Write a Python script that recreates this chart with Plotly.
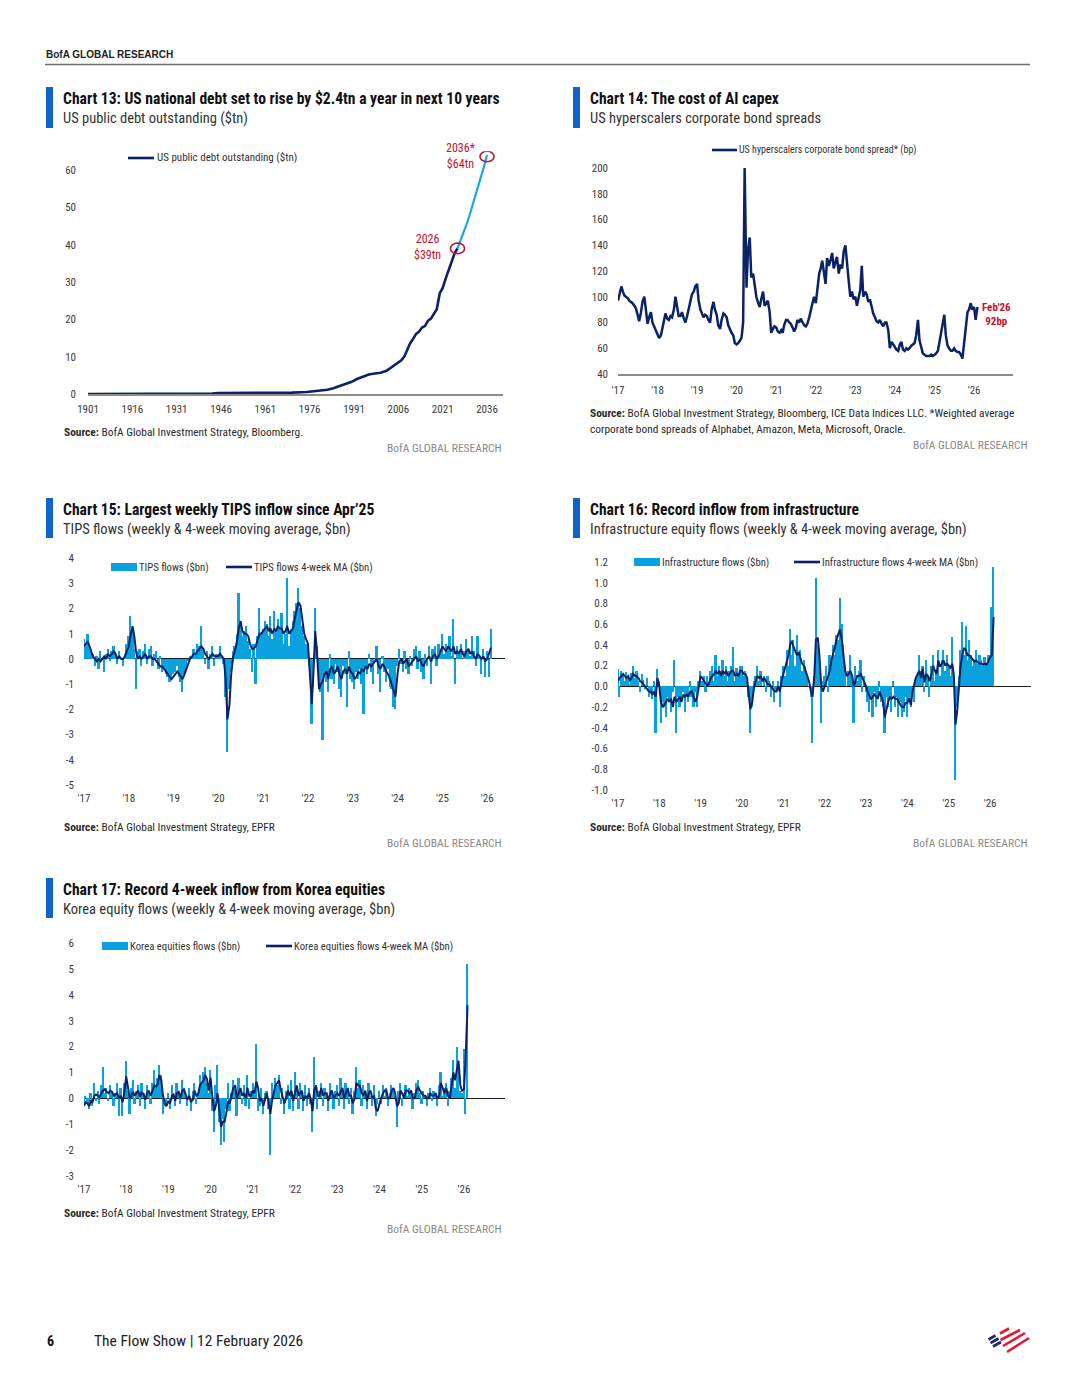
import plotly.graph_objects as go

W, H = 1080, 1398
FONT = "Liberation Sans Narrow, Roboto Condensed, DejaVu Sans Condensed, Arial Narrow, sans-serif"
NAVY = "#0B2366"
LIGHT = "#0AA2DE"
TITLE_BLUE = "#1262CC"
RED = "#C8102E"
TXT = "#2a2a2a"
GREY = "#8a8a8a"

# ---------------- Chart 13 data: US public debt outstanding ($tn) ----------------
debt_years = [1901, 1905, 1910, 1915, 1917, 1919, 1925, 1930, 1935, 1940, 1943, 1945, 1950,
              1955, 1960, 1965, 1970, 1975, 1978, 1980, 1982, 1984, 1986, 1988, 1990, 1992,
              1994, 1996, 1998, 2000, 2002, 2004, 2006, 2007, 2008, 2009, 2010, 2011, 2012,
              2013, 2014, 2015, 2016, 2017, 2018, 2019, 2020, 2021, 2022, 2023, 2024, 2025, 2026]
debt_values = [0.0012, 0.0011, 0.0011, 0.0012, 0.003, 0.025, 0.021, 0.016, 0.029, 0.043, 0.137,
               0.259, 0.257, 0.274, 0.286, 0.317, 0.371, 0.533, 0.772, 0.908, 1.14, 1.57, 2.12,
               2.6, 3.2, 4.0, 4.6, 5.2, 5.5, 5.67, 6.2, 7.4, 8.5, 9.0, 10.0, 11.9, 13.6, 14.8,
               16.1, 16.7, 17.8, 18.2, 19.6, 20.2, 21.5, 22.7, 27.0, 28.4, 30.9, 33.2, 35.5, 37.6, 39.0]
proj_years = [2026, 2027, 2028, 2029, 2030, 2031, 2032, 2033, 2034, 2035, 2036]
proj_values = [39.0, 41.0, 43.0, 45.3, 47.6, 50.2, 52.8, 55.5, 58.2, 61.0, 64.0]
debt_tick_years = [1901, 1916, 1931, 1946, 1961, 1976, 1991, 2006, 2021, 2036]
debt_yticks = [0, 10, 20, 30, 40, 50, 60]
debt_marks = [(2026, 39.0), (2036, 63.6)]

# ---------------- shared year ticks ----------------
year_tick_dates = ["2017-01-01", "2018-01-01", "2019-01-01", "2020-01-01", "2021-01-01",
                   "2022-01-01", "2023-01-01", "2024-01-01", "2025-01-01", "2026-01-01"]
year_tick_labels = ["'17", "'18", "'19", "'20", "'21", "'22", "'23", "'24", "'25", "'26"]

# ---------------- Chart 14: hyperscaler spreads (bp), semi-monthly from Jan 2017 ----------------
spread_bp = [
    97, 103, 108, 104, 101, 100, 99, 97, 96, 95, 93, 91, 86, 81, 88, 96, 100, 91, 79, 84, 88, 80, 77, 74,
    72, 68, 70, 76, 84, 87, 83, 82, 85, 84, 90, 100, 92, 85, 85, 88, 83, 80, 85, 91, 98, 102, 104, 108,
    110, 97, 90, 86, 84, 86, 85, 82, 80, 90, 96, 90, 86, 78, 75, 82, 87, 86, 84, 78, 74, 72, 70, 64,
    63, 64, 66, 68, 80, 200, 107, 136, 146, 115, 118, 108, 100, 96, 92, 98, 104, 93, 95, 97, 88, 72, 75, 77,
    76, 73, 72, 74, 72, 78, 82, 82, 80, 79, 76, 73, 76, 82, 80, 83, 80, 78, 77, 79, 84, 90, 95, 100,
    95, 105, 118, 122, 128, 120, 110, 130, 124, 128, 134, 122, 127, 131, 118, 125, 122, 135, 140, 125, 112, 100, 104, 98,
    100, 93, 101, 105, 124, 100, 104, 102, 96, 98, 92, 87, 84, 81, 80, 82, 79, 77, 80, 80, 74, 60, 65, 63,
    60, 59, 58, 63, 65, 59, 58, 60, 59, 60, 62, 63, 64, 70, 82, 66, 60, 56, 55, 54, 54, 54, 55, 54,
    55, 56, 58, 65, 72, 78, 86, 70, 62, 60, 58, 58, 60, 58, 57, 57, 55, 52, 62, 75, 88, 90, 95, 90,
    92, 82, 92]

# ---------------- Chart 15: TIPS flows ($bn) ----------------
tips_flows = [
    0.8, 0.5, 1.0, 0.6, 0.4, 0.2, -0.3, 0.1, -0.4, 0.3, 0.0, -0.5, 0.2, 0.4, -0.1, 0.3, 0.5, 0.1, -0.2, 0.3, 0.0, -0.3, 0.2, 0.6,
    0.9, 1.7, 1.2, 0.4, -1.2, 0.3, 0.4, -0.3, 0.3, 0.6, -0.2, 0.4, 0.5, -0.3, 0.2, 0.3, -0.4, 0.1, -0.5, -0.4, -0.6, -0.7, -0.9, -0.8,
    -0.6, -0.5, -0.3, -0.7, -0.9, -1.3, -0.6, -0.4, -0.1, 0.1, 0.0, 0.4, 0.2, 0.6, 0.5, 1.3, 0.4, -0.2, 0.3, -0.4, 0.2, 0.5, -0.3, 0.2,
    0.2, 0.5, 0.1, -0.2, -1.5, -3.7, -1.2, -0.5, 0.3, 0.5, 1.0, 2.6, 1.3, 0.9, 1.1, 1.3, 0.7, 0.4, -0.5, 0.6, -1.0, 0.9, 2.0, 1.0,
    1.2, 1.5, 1.4, 0.9, 1.7, 0.8, 1.9, 1.1, 1.6, 1.2, 1.8, 0.6, 1.0, 3.2, 0.5, 1.2, 1.5, 1.9, 2.2, 2.8, 2.0, 1.3, 0.9, 0.6,
    0.5, -0.3, -2.6, -1.1, 2.0, 0.5, -1.0, -1.3, -3.2, -0.5, -0.9, -1.3, 0.2, -0.8, -1.0, -0.2, -0.5, -1.2, -1.5, -0.3, -0.6, -1.9, 0.3, -0.8,
    -0.9, -1.2, -0.5, -0.8, -0.4, -1.0, -2.2, -0.3, -0.6, 0.2, -0.5, -1.0, 0.0, 0.5, -0.6, -1.3, 0.1, -0.5, -0.9, -0.4, -1.1, -1.2, -1.9, -2.0,
    -0.3, 0.4, -0.2, -0.5, 0.3, -0.4, -0.6, 0.1, -0.3, 0.4, 0.5, -0.4, 0.3, -0.5, -0.8, 0.2, -0.3, 0.5, -1.0, 0.4, 0.5, -0.3, 0.6, 0.2,
    1.0, 0.2, 0.6, 0.3, 0.9, 0.1, 1.6, -1.0, 0.5, 0.2, 0.6, 0.0, 0.3, 0.8, 0.4, 0.1, 0.9, 0.3, -0.3, 0.9, 0.1, -0.6, 0.4, -0.7,
    0.3, -0.7, 1.2]
tips_ma = [
    0.5, 0.6, 0.7, 0.5, 0.3, 0.1, 0.0, -0.1, 0.0, -0.1, 0.0, 0.1, 0.0, 0.2, 0.1, 0.2, 0.3, 0.2, 0.0, 0.1, 0.0, 0.0, 0.1, 0.3,
    0.5, 0.9, 1.3, 0.9, 0.3, 0.0, 0.1, 0.0, 0.1, 0.2, 0.0, 0.1, 0.1, 0.0, 0.0, -0.1, -0.2, -0.3, -0.3, -0.4, -0.5, -0.6, -0.7, -0.8,
    -0.7, -0.6, -0.5, -0.6, -0.7, -0.8, -0.6, -0.4, -0.2, 0.0, 0.1, 0.2, 0.2, 0.3, 0.4, 0.5, 0.4, 0.2, 0.1, 0.0, 0.1, 0.2, 0.1, 0.1,
    0.1, 0.2, 0.1, 0.0, -0.8, -2.4, -1.8, -0.6, 0.1, 0.3, 0.7, 1.2, 1.5, 1.1, 1.0, 1.0, 0.9, 0.6, 0.4, 0.4, 0.5, 0.7, 1.0, 1.0,
    1.1, 1.2, 1.3, 1.1, 1.2, 1.0, 1.2, 1.1, 1.3, 1.2, 1.2, 1.0, 1.1, 1.3, 1.0, 1.1, 1.2, 1.6, 2.0, 2.25, 2.1, 1.5, 1.0, 0.8,
    0.6, -0.5, -1.8, -0.5, 1.1, 0.3, -1.2, -1.0, -0.9, -0.6, -0.5, -0.8, -0.4, -0.3, -0.6, -0.5, -0.3, -0.6, -0.8, -0.5, -0.4, -0.6, -0.3, -0.5,
    -0.6, -0.8, -0.7, -0.5, -0.6, -0.4, -0.5, -0.3, -0.4, -0.2, -0.3, -0.2, -0.1, 0.0, -0.3, -0.4, -0.2, -0.3, -0.5, -0.6, -0.8, -1.0, -1.3, -1.5,
    -0.6, -0.1, 0.0, -0.2, -0.1, 0.0, -0.3, -0.2, -0.1, 0.0, 0.1, -0.1, 0.0, -0.2, -0.3, -0.1, 0.0, 0.1, -0.1, 0.1, 0.2, 0.0, 0.1, 0.3,
    0.5, 0.4, 0.3, 0.5, 0.4, 0.3, 0.5, 0.2, 0.3, 0.2, 0.4, 0.2, 0.1, 0.3, 0.4, 0.2, 0.3, 0.1, 0.0, 0.2, 0.1, 0.0, 0.1, -0.1,
    0.0, 0.2, 0.45]
tips_yticks = [-5, -4, -3, -2, -1, 0, 1, 2, 3, 4]

# ---------------- Chart 16: Infrastructure flows ($bn) ----------------
infra_flows = [
    0.17, -0.1, 0.15, 0.12, 0.05, 0.14, 0.1, 0.02, 0.13, 0.2, 0.08, 0.15, 0.05, -0.05, 0.12, 0.06, -0.03, 0.08, -0.1, -0.05, -0.12, 0.05, -0.45, 0.17,
    0.05, -0.35, -0.15, -0.2, -0.3, -0.1, -0.15, -0.25, -0.05, 0.25, -0.45, -0.1, -0.2, -0.15, -0.05, -0.25, -0.1, -0.15, 0.05, -0.1, -0.2, -0.05, -0.2, 0.05,
    0.15, 0.05, 0.1, -0.05, 0.1, 0.0, 0.15, 0.2, 0.05, 0.3, 0.1, 0.2, 0.15, 0.25, 0.1, 0.2, 0.05, 0.15, 0.2, 0.38, 0.05, 0.18, 0.1, 0.2,
    0.2, 0.1, 0.15, 0.05, -0.1, -0.45, -0.2, 0.05, 0.1, 0.2, 0.05, 0.15, 0.0, 0.1, -0.05, 0.1, 0.05, -0.1, 0.05, -0.15, -0.05, 0.05, -0.2, 0.1,
    0.2, 0.1, 0.35, 0.2, 0.55, 0.3, 0.45, 0.2, 0.5, 0.3, 0.35, 0.15, 0.25, 0.2, 0.1, 0.0, -0.1, -0.55, 0.1, 1.05, 0.4, 0.3, -0.35, 0.05,
    0.1, 0.2, -0.05, 0.3, 0.25, 0.4, 0.3, 0.5, 0.45, 0.85, 0.6, 0.4, 0.2, 0.0, 0.15, 0.3, 0.1, -0.35, 0.2, 0.05, 0.15, 0.25, -0.05, 0.1,
    -0.05, -0.15, -0.25, -0.1, -0.3, -0.05, -0.2, -0.1, 0.05, -0.15, -0.2, -0.45, -0.1, -0.2, -0.1, -0.25, 0.05, -0.2, -0.1, -0.3, -0.15, -0.3, -0.25, -0.1,
    -0.3, -0.1, -0.2, 0.0, -0.15, 0.05, 0.1, 0.3, 0.15, 0.2, -0.05, 0.25, 0.1, -0.1, 0.2, 0.3, 0.05, 0.15, 0.35, 0.1, 0.25, 0.35, 0.15, 0.3,
    0.2, 0.1, 0.48, 0.1, -0.9, -0.2, 0.1, 0.35, 0.62, 0.3, 0.58, 0.25, 0.45, 0.3, 0.2, 0.25, 0.35, 0.22, 0.3, 0.25, 0.2, 0.28, 0.22, 0.3,
    0.3, 0.77, 1.15]
infra_ma = [
    0.05, 0.08, 0.1, 0.12, 0.1, 0.08, 0.1, 0.06, 0.08, 0.12, 0.1, 0.1, 0.08, 0.05, 0.04, 0.02, 0.0, -0.02, -0.05, -0.05, -0.08, -0.05, -0.1, 0.08,
    0.0, -0.15, -0.2, -0.18, -0.15, -0.12, -0.15, -0.12, -0.2, -0.1, -0.15, -0.12, -0.1, -0.15, -0.08, -0.1, -0.08, -0.1, -0.05, -0.05, -0.1, -0.15, -0.1, 0.0,
    0.1, 0.08, 0.05, 0.02, 0.0, 0.03, 0.08, 0.1, 0.12, 0.15, 0.12, 0.15, 0.1, 0.15, 0.12, 0.15, 0.1, 0.12, 0.15, 0.15, 0.1, 0.12, 0.1, 0.15,
    0.15, 0.12, 0.12, 0.08, -0.05, -0.22, -0.15, -0.02, 0.05, 0.1, 0.08, 0.1, 0.05, 0.08, 0.05, 0.02, 0.02, 0.0, -0.02, -0.05, -0.05, 0.0, -0.05, 0.05,
    0.12, 0.18, 0.25, 0.3, 0.4, 0.44, 0.38, 0.35, 0.3, 0.33, 0.28, 0.22, 0.2, 0.15, 0.1, 0.05, -0.05, -0.1, 0.1, 0.45, 0.47, 0.3, 0.0, -0.05,
    0.0, 0.05, 0.1, 0.15, 0.25, 0.3, 0.38, 0.45, 0.5, 0.55, 0.45, 0.3, 0.15, 0.1, 0.12, 0.15, 0.1, 0.0, 0.05, 0.1, 0.1, 0.12, 0.08, 0.05,
    0.0, -0.05, -0.1, -0.12, -0.1, -0.08, -0.1, -0.12, -0.05, -0.1, -0.15, -0.3, -0.2, -0.15, -0.1, -0.12, -0.1, -0.12, -0.12, -0.15, -0.18, -0.2, -0.2, -0.16,
    -0.16, -0.11, -0.18, -0.05, 0.03, 0.08, 0.12, 0.15, 0.08, 0.17, 0.04, 0.12, 0.1, 0.05, 0.12, 0.2, 0.15, 0.12, 0.25, 0.19, 0.22, 0.25, 0.2, 0.22,
    0.2, 0.18, 0.22, 0.1, -0.37, -0.25, 0.0, 0.2, 0.3, 0.37, 0.35, 0.3, 0.3, 0.28, 0.25, 0.24, 0.25, 0.23, 0.22, 0.22, 0.21, 0.22, 0.21, 0.25,
    0.28, 0.3, 0.67]
infra_yticks = [-1.0, -0.8, -0.6, -0.4, -0.2, 0.0, 0.2, 0.4, 0.6, 0.8, 1.0, 1.2]

# ---------------- Chart 17: Korea equities flows ($bn) ----------------
korea_flows = [
    -0.3, 0.1, -0.2, -0.4, 0.2, -0.3, 0.6, -0.1, 0.3, -0.2, 0.5, 1.2, 0.2, 0.4, -0.1, 0.5, 0.3, -0.3, 0.2, 0.6, -0.7, 0.4, -0.7, 0.6,
    1.45, 0.3, -0.6, 0.4, 0.7, -0.2, 0.3, 0.5, -0.3, 0.6, 0.2, -0.4, 0.5, 0.3, -0.2, 0.6, 1.1, 0.4, 0.8, 1.3, 0.9, -0.6, -0.3, -0.2,
    0.2, -0.4, 0.5, 0.1, -0.3, 0.6, 0.2, -0.2, 0.7, 0.3, 0.1, -0.3, 0.4, -0.5, 0.3, 0.6, -0.2, 0.2, 0.9, 0.5, 1.0, 1.2, 0.6, 0.2,
    1.1, -0.5, -1.3, 0.5, 1.3, -0.9, -1.8, -0.8, -1.7, -0.4, 0.6, -0.5, 0.2, 0.7, 0.4, -0.7, 0.8, 0.3, -0.2, 0.5, -0.3, 0.9, -0.4, 0.3,
    0.6, 0.3, 2.1, -0.5, -0.3, 0.4, -0.6, 0.2, 0.3, -0.4, -2.2, 0.6, 0.3, 0.8, 0.5, 0.9, -0.2, 0.4, -0.6, 0.3, 0.5, -0.4, 0.7, -0.5,
    1.0, 0.3, -0.4, 0.6, 0.2, -0.5, 0.5, -0.3, 0.4, -0.2, -1.3, 1.6, 0.4, -0.4, 0.3, 0.6, -0.3, 0.4, 0.1, -0.5, 0.6, 0.2, -0.4, 0.3,
    0.5, -0.3, 0.8, 0.2, -0.4, 0.6, 0.3, -0.2, 0.4, -0.6, 0.3, 1.2, 0.4, 0.7, -0.3, 0.5, 0.2, -0.4, 0.6, 0.1, -0.3, 0.5, -0.7, -0.2,
    0.3, -0.2, 0.5, 0.1, 0.4, -0.3, 0.2, 0.5, 0.3, 0.1, -1.1, 0.3, 0.6, -0.3, 0.2, 0.5, 0.1, 0.4, 0.3, -0.4, 0.2, 0.6, 0.7, 0.2,
    -0.2, 0.3, 0.1, -0.3, 0.2, 0.4, -0.1, 0.3, 0.2, -0.3, 0.5, 1.0, 0.1, 0.4, 0.6, -0.3, 0.3, 0.8, 1.5, 0.4, 2.0, 1.2, 0.3, 0.2,
    1.9, -0.6, 5.2]
korea_ma = [
    -0.3, -0.15, -0.2, -0.3, -0.1, -0.15, 0.1, 0.15, 0.1, 0.05, 0.2, 0.3, 0.35, 0.25, 0.2, 0.3, 0.25, 0.1, 0.15, 0.2, 0.0, 0.1, -0.15, 0.2,
    0.85, 0.4, 0.0, 0.1, 0.25, 0.1, 0.2, 0.3, 0.05, 0.25, 0.15, -0.05, 0.2, 0.3, 0.1, 0.3, 0.5, 0.45, 0.55, 0.9, 0.7, 0.1, -0.2, -0.3,
    -0.1, -0.2, 0.1, 0.15, -0.1, 0.2, 0.25, 0.0, 0.3, 0.35, 0.15, -0.05, 0.1, -0.15, -0.05, 0.3, 0.1, 0.15, 0.5, 0.6, 0.7, 0.9, 0.75, 0.3,
    0.8, 0.1, -0.5, -0.3, 0.2, -0.4, -1.1, -0.9, -0.9, -0.6, -0.1, -0.2, 0.1, 0.4, 0.5, 0.0, 0.2, 0.4, 0.1, 0.2, 0.0, 0.4, 0.1, 0.1,
    0.3, 0.2, 0.65, 0.4, -0.1, 0.0, -0.3, -0.1, 0.2, -0.1, -0.6, -0.1, 0.3, 0.5, 0.6, 0.7, 0.3, 0.1, -0.2, 0.0, 0.3, 0.1, 0.3, -0.1,
    0.3, 0.5, 0.1, 0.2, 0.3, -0.1, 0.1, 0.0, 0.2, 0.0, -0.5, 0.3, 0.5, 0.1, 0.1, 0.4, 0.1, 0.2, 0.2, -0.1, 0.2, 0.3, 0.0, 0.1,
    0.2, 0.1, 0.3, 0.4, 0.0, 0.2, 0.4, 0.1, 0.1, -0.2, 0.0, 0.6, 0.5, 0.5, 0.2, 0.1, 0.3, -0.1, 0.2, 0.3, 0.0, 0.1, -0.4, -0.5,
    -0.2, 0.0, 0.2, 0.3, 0.3, 0.0, 0.0, 0.3, 0.4, 0.2, -0.3, -0.2, 0.3, 0.2, 0.0, 0.3, 0.3, 0.2, 0.3, 0.0, 0.0, 0.3, 0.45, 0.3,
    0.2, 0.1, 0.1, 0.0, 0.0, 0.2, 0.1, 0.1, 0.2, 0.0, 0.1, 0.6, 0.4, 0.2, 0.4, 0.1, 0.0, 0.5, 1.0, 0.7, 1.2, 1.45, 0.5, 0.3,
    0.35, 1.5, 3.6]
korea_yticks = [-3, -2, -1, 0, 1, 2, 3, 4, 5, 6]


def semi_monthly(n):
    """Observation dates: 1st and 15th of each month from Jan 2017."""
    out, y, m, d = [], 2017, 1, 1
    while len(out) < n:
        out.append(f"{y}-{m:02d}-{d:02d}")
        if d == 1:
            d = 15
        else:
            d, m = 1, m + 1
            if m > 12:
                m, y = 1, y + 1
    return out


def fx(x):
    return x / W


def fy(y):
    return 1 - y / H


BAR_W = 15 * 86400000

fig = go.Figure()

# ---- Chart 13 traces ----
fig.add_trace(go.Scatter(x=debt_years, y=debt_values, mode="lines", line=dict(color=NAVY, width=2.6),
                         xaxis="x", yaxis="y", showlegend=False, hoverinfo="skip"))
fig.add_trace(go.Scatter(x=proj_years, y=proj_values, mode="lines", line=dict(color="#1BA6E0", width=2.2),
                         xaxis="x", yaxis="y", showlegend=False, hoverinfo="skip"))

# ---- Chart 14 ----
fig.add_trace(go.Scatter(x=semi_monthly(len(spread_bp)), y=spread_bp, mode="lines",
                         line=dict(color=NAVY, width=2.5), xaxis="x2", yaxis="y2",
                         showlegend=False, hoverinfo="skip"))

# ---- Charts 15-17 ----
for flows, ma, ax in [(tips_flows, tips_ma, "3"), (infra_flows, infra_ma, "4"), (korea_flows, korea_ma, "5")]:
    fig.add_trace(go.Bar(x=semi_monthly(len(flows)), y=flows, width=BAR_W, marker=dict(color=LIGHT, line_width=0),
                         xaxis="x" + ax, yaxis="y" + ax, showlegend=False, hoverinfo="skip"))
    fig.add_trace(go.Scatter(x=semi_monthly(len(ma)), y=ma, mode="lines", line=dict(color=NAVY, width=2.0),
                             xaxis="x" + ax, yaxis="y" + ax, showlegend=False, hoverinfo="skip"))

tickfont = dict(family=FONT, size=11, color="#3a3a3a")


def xdate(dom, rng, anchor):
    return dict(domain=[fx(dom[0]), fx(dom[1])], range=rng, type="date", anchor=anchor,
                tickvals=year_tick_dates, ticktext=year_tick_labels, showgrid=False, zeroline=False,
                tickfont=tickfont, ticks="", showline=False, ticklabelstandoff=5, fixedrange=True,
                automargin=False)


def yax(bottom, top, rng, vals, texts, anchor, zero=True):
    return dict(domain=[fy(bottom), fy(top)], range=rng, anchor=anchor, tickvals=vals, ticktext=texts,
                showgrid=False, zeroline=zero, zerolinecolor="#1a1a1a", zerolinewidth=1.2,
                tickfont=tickfont, ticks="", showline=False, ticklabelstandoff=9, fixedrange=True,
                automargin=False)


layout = dict(
    width=W, height=H, autosize=False,
    margin=dict(l=0, r=0, t=0, b=0, pad=0, autoexpand=False),
    paper_bgcolor="white", plot_bgcolor="rgba(0,0,0,0)",
    bargap=0, font=dict(family=FONT, color=TXT), showlegend=False,
    xaxis=dict(domain=[fx(88), fx(503)], range=[1901, 2041.4], anchor="y", tickvals=debt_tick_years,
               ticktext=[str(v) for v in debt_tick_years], showgrid=False, zeroline=False, tickfont=tickfont,
               ticks="", showline=True, linecolor="#8c8c8c", linewidth=2, ticklabelstandoff=4, fixedrange=True,
               automargin=False),
    yaxis=yax(394, 151.3, [0, 65], debt_yticks, [str(v) for v in debt_yticks], "x", zero=False),
    xaxis2=dict(xdate((618, 1013), ["2017-01-01", "2026-12-26"], "y2"), showline=True, linecolor="#8c8c8c", linewidth=2),
    yaxis2=yax(374, 168, [40, 200], [40, 60, 80, 100, 120, 140, 160, 180, 200],
               [str(v) for v in [40, 60, 80, 100, 120, 140, 160, 180, 200]], "x2", zero=False),
    xaxis3=xdate((84, 505), ["2017-01-01", "2026-05-26"], "y3"),
    yaxis3=yax(785, 558, [-5, 4], tips_yticks, [str(v) for v in tips_yticks], "x3"),
    xaxis4=xdate((618, 1031), ["2017-01-01", "2026-12-28"], "y4"),
    yaxis4=yax(790, 562, [-1.0, 1.2], infra_yticks, [f"{v:.1f}" for v in infra_yticks], "x4"),
    xaxis5=xdate((84, 505), ["2017-01-01", "2026-12-22"], "y5"),
    yaxis5=yax(1176, 943, [-3, 6], korea_yticks, [str(v) for v in korea_yticks], "x5"),
)
layout["yaxis"]["ticklabelstandoff"] = 11
fig.update_layout(**layout)

ann = []
shapes = []


def text(x, y, s, size=11, color=TXT, anchor="left", family=FONT):
    ann.append(dict(x=fx(x), y=fy(y), xref="paper", yref="paper", text=s, showarrow=False,
                    xanchor=anchor, yanchor="middle", font=dict(family=family, size=size, color=color)))


def rect(x0, y0, x1, y1, color):
    shapes.append(dict(type="rect", xref="paper", yref="paper", x0=fx(x0), x1=fx(x1), y0=fy(y0), y1=fy(y1),
                       fillcolor=color, line=dict(width=0), layer="above"))


def hline(x0, x1, y, color, width):
    shapes.append(dict(type="line", xref="paper", yref="paper", x0=fx(x0), x1=fx(x1), y0=fy(y), y1=fy(y),
                       line=dict(color=color, width=width), layer="above"))


# page header
text(44, 54, "<b>BofA GLOBAL RESEARCH</b>", size=10, color="#222", family="Liberation Sans, Arial, sans-serif")
hline(45, 1030, 64.5, "#6e6e6e", 1.5)

# titles
titles = [
    (46, 87, 128, "Chart 13: US national debt set to rise by $2.4tn a year in next 10 years", "US public debt outstanding ($tn)"),
    (573, 87, 128, "Chart 14: The cost of AI capex", "US hyperscalers corporate bond spreads"),
    (46, 498, 538, "Chart 15: Largest weekly TIPS inflow since Apr\u201925", "TIPS flows (weekly & 4-week moving average, $bn)"),
    (573, 498, 538, "Chart 16: Record inflow from infrastructure", "Infrastructure equity flows (weekly & 4-week moving average, $bn)"),
    (46, 878, 918, "Chart 17: Record 4-week inflow from Korea equities", "Korea equity flows (weekly & 4-week moving average, $bn)"),
]
for bx, y0, y1, t, sub in titles:
    rect(bx, y0, bx + 7, y1, TITLE_BLUE)
    text(bx + 15, y0 + 12, f"<b>{t}</b>", size=15.6, color="#111")
    text(bx + 15, y0 + 31, sub, size=14.5, color="#333")

# legends
hline(128, 154, 158, NAVY, 2.6)
text(155, 158, "US public debt outstanding ($tn)", size=11, color="#333")
hline(712, 737, 150, NAVY, 2.6)
text(737, 150, "US hyperscalers corporate bond spread* (bp)", size=10, color="#333")
for rx, ry, lbl1, lx, lbl2 in [(111, 567, "TIPS flows ($bn)", 226, "TIPS flows 4-week MA ($bn)"),
                               (634, 562, "Infrastructure flows ($bn)", 794, "Infrastructure flows 4-week MA ($bn)"),
                               (102, 946, "Korea equities flows ($bn)", 266, "Korea equities flows 4-week MA ($bn)")]:
    rect(rx, ry - 4, rx + 26, ry + 4, LIGHT)
    text(rx + 26, ry, lbl1, size=10.7, color="#333")
    hline(lx, lx + 26, ry, NAVY, 2.6)
    text(lx + 26, ry, lbl2, size=10.7, color="#333")

# chart 13 call-outs
for yr, val in debt_marks:
    shapes.append(dict(type="circle", xref="x", yref="y", x0=yr - 2.4, x1=yr + 2.4, y0=val - 1.4, y1=val + 1.4,
                       line=dict(color=RED, width=1.6), layer="above"))
text(427, 247, "2026<br>$39tn", size=12, color=RED, anchor="center")
text(460, 156, "2036*<br>$64tn", size=12, color=RED, anchor="center")

# chart 14 call-out
text(996, 314, "<b>Feb'26<br>92bp</b>", size=11, color=RED, anchor="center")

# sources
SRC = 11.4
text(62, 432, "<b>Source:</b> BofA Global Investment Strategy, Bloomberg.", size=SRC)
text(588, 413, "<b>Source:</b> BofA Global Investment Strategy, Bloomberg, ICE Data Indices LLC. *Weighted average", size=SRC)
text(588, 429, "corporate bond spreads of Alphabet, Amazon, Meta, Microsoft, Oracle.", size=SRC)
text(62, 827, "<b>Source:</b> BofA Global Investment Strategy, EPFR", size=SRC)
text(588, 827, "<b>Source:</b> BofA Global Investment Strategy, EPFR", size=SRC)
text(62, 1213, "<b>Source:</b> BofA Global Investment Strategy, EPFR", size=SRC)
for x, y in [(504, 448), (1030, 445), (504, 843), (1030, 843), (504, 1229)]:
    text(x, y, "BofA GLOBAL RESEARCH", size=11.5, color=GREY, anchor="right")

# footer
text(45, 1341, "<b>6</b>", size=14, color="#111")
text(92, 1341, "The Flow Show | 12 February 2026", size=15.5, color="#222")


# logo (stylised flag strokes)
def stroke(x0, y0, x1, y1, color, w=2.6):
    shapes.append(dict(type="line", xref="paper", yref="paper", x0=fx(x0), y0=fy(y0), x1=fx(x1), y1=fy(y1),
                       line=dict(color=color, width=w), layer="above"))


for (a, b, c, d) in [(988.5, 1339.5, 995.5, 1335.5), (990.5, 1343, 998.5, 1338.5), (993, 1346.5, 1001, 1342)]:
    stroke(a, b, c, d, "#1B2A6B")
for (a, b, c, d) in [(1000, 1333.5, 1009, 1328.5), (1000.5, 1340, 1020, 1330), (1003, 1346, 1025, 1333),
                     (1007, 1352, 1029, 1338)]:
    stroke(a, b, c, d, "#E31837")

fig.update_layout(annotations=ann, shapes=shapes)
fig.write_html("out.html", config={"responsive": False, "displayModeBar": False},
               post_script="document.body.style.margin='0px';document.body.style.overflow='hidden';")
